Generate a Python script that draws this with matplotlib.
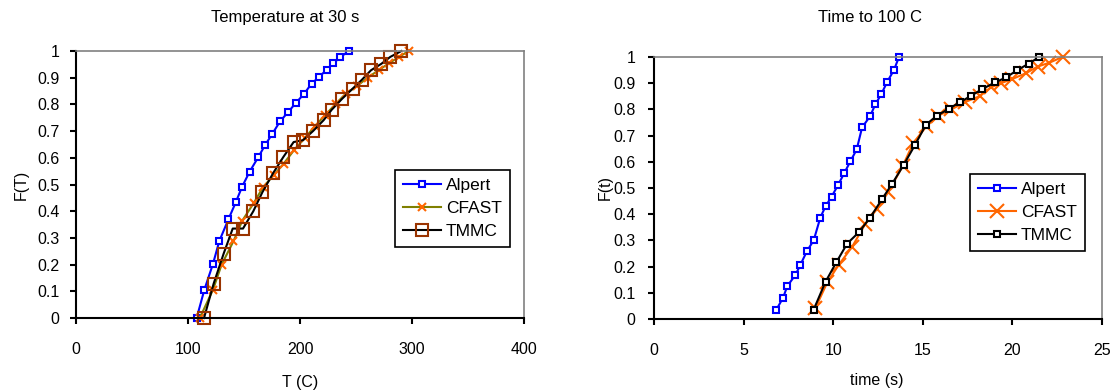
import matplotlib
matplotlib.use("Agg")
import matplotlib.pyplot as plt
import numpy as np

plt.rcParams['font.family'] = ['Liberation Sans', 'DejaVu Sans']
plt.rcParams['font.size'] = 11

# === Temperature at 30 s ===
temp_alpert_T = [107.7, 114.6, 122.3, 128.0, 136.0, 142.6, 148.2, 155.0, 162.8, 169.0, 175.3,
                 182.1, 189.3, 196.4, 203.3, 210.4, 217.3, 223.8, 229.8, 235.7, 243.5]
temp_alpert_F = [0.0, 0.106, 0.203, 0.289, 0.369, 0.433, 0.491, 0.548, 0.603, 0.649, 0.69,
                 0.736, 0.771, 0.806, 0.838, 0.878, 0.904, 0.93, 0.954, 0.976, 1.0]
temp_cfast_T = [110.5, 122.2, 130.0, 140.5, 148.5, 158.6, 167.0, 176.5, 185.4, 194.9, 204.5,
                213.2, 222.5, 232.1, 240.8, 250.6, 260.4, 270.8, 279.8, 288.4, 297.0]
temp_cfast_F = [0.0, 0.105, 0.2, 0.287, 0.365, 0.43, 0.49, 0.535, 0.578, 0.63, 0.675,
                0.718, 0.76, 0.803, 0.84, 0.868, 0.9, 0.93, 0.955, 0.978, 1.0]
temp_tmmc_T = [114.3, 122.9, 131.8, 139.9, 149.1, 158.3, 166.4, 176.2, 185.1, 194.3, 202.7,
               211.6, 221.1, 228.3, 237.8, 247.0, 255.4, 263.4, 272.6, 280.6, 290.5]
temp_tmmc_F = [0.0, 0.129, 0.241, 0.335, 0.335, 0.4, 0.471, 0.544, 0.603, 0.659, 0.666,
               0.7, 0.741, 0.78, 0.822, 0.859, 0.893, 0.928, 0.952, 0.978, 1.0]

# === Time to 100 C ===
time_alpert_t = [6.83, 7.2, 7.44, 7.89, 8.17, 8.54, 8.91, 9.28, 9.57, 9.91, 10.26,
                 10.61, 10.96, 11.31, 11.61, 12.06, 12.35, 12.69, 13.02, 13.39, 13.67]
time_alpert_F = [0.036, 0.081, 0.126, 0.168, 0.207, 0.26, 0.3, 0.387, 0.43, 0.467, 0.51,
                 0.556, 0.602, 0.647, 0.731, 0.774, 0.819, 0.859, 0.906, 0.95, 1.0]
time_cfast_t = [9.0, 9.67, 10.3, 11.05, 11.78, 12.44, 13.07, 13.87, 14.47, 15.2, 15.83,
                16.6, 17.33, 18.17, 18.8, 19.37, 20.0, 20.76, 21.4, 22.06, 22.8]
time_cfast_F = [0.041, 0.14, 0.206, 0.275, 0.362, 0.42, 0.484, 0.583, 0.672, 0.735, 0.775,
                0.8, 0.827, 0.85, 0.884, 0.9, 0.916, 0.938, 0.963, 0.978, 1.0]
time_tmmc_t = [8.91, 9.57, 10.17, 10.78, 11.43, 12.06, 12.72, 13.28, 13.93, 14.57, 15.17,
               15.77, 16.44, 17.07, 17.7, 18.3, 19.04, 19.65, 20.28, 20.9, 21.5]
time_tmmc_F = [0.036, 0.142, 0.216, 0.288, 0.331, 0.387, 0.457, 0.515, 0.588, 0.665, 0.741,
               0.775, 0.802, 0.827, 0.852, 0.877, 0.903, 0.922, 0.95, 0.974, 1.0]

labels = ['Alpert', 'CFAST', 'TMMC']
BLUE = '#0000FF'
ORANGE = '#FF6600'
OLIVE = '#808000'
BROWN = '#993300'


def style_axes(ax, xmax, xstep, ypad):
    ax.set_xlim(0, xmax)
    ax.set_ylim(0, 1)
    ax.set_xticks(np.arange(0, xmax + xstep / 2, xstep))
    ax.set_yticks(np.arange(0, 1.05, 0.1))
    ax.set_yticklabels(['0', '0.1', '0.2', '0.3', '0.4', '0.5', '0.6', '0.7', '0.8', '0.9', '1'])
    for s in ['top', 'right']:
        ax.spines[s].set_color('#808080')
        ax.spines[s].set_linewidth(1.2)
    for s in ['left', 'bottom']:
        ax.spines[s].set_color('black')
        ax.spines[s].set_linewidth(1.5)
    ax.tick_params(axis='x', direction='out', length=4, width=1.5, pad=13, labelsize=11.5)
    ax.tick_params(axis='y', direction='out', length=4, width=1.5, pad=ypad, labelsize=11.5)


def make_legend(ax, anchor):
    leg = ax.legend(loc='center', bbox_to_anchor=anchor, frameon=True, fancybox=False,
                    edgecolor='black', framealpha=1, handlelength=2.2, fontsize=12.5,
                    borderpad=0.45, labelspacing=0.45, handletextpad=0.3, borderaxespad=0)
    leg.get_frame().set_linewidth(1.2)
    return leg


fig = plt.figure(figsize=(11.18, 3.9), dpi=100)
ax1 = fig.add_axes([0.068, 0.1846, 0.4007, 0.6846])
ax2 = fig.add_axes([0.585, 0.182, 0.4007, 0.672])

# левый график
ax1.plot(temp_alpert_T, temp_alpert_F, color=BLUE, lw=1.5, marker='s', ms=5,
         mfc='white', mec=BLUE, mew=1.5, label=labels[0], clip_on=False)
ax1.plot(temp_cfast_T, temp_cfast_F, color=OLIVE, lw=1.5, marker='x', ms=6,
         mec=ORANGE, mew=1.5, label=labels[1], clip_on=False)
ax1.plot(temp_tmmc_T, temp_tmmc_F, color='black', lw=1.5, marker='s', ms=8.5,
         mfc='none', mec=BROWN, mew=1.5, label=labels[2], clip_on=False)
style_axes(ax1, 400, 100, 8)
ax1.set_xlabel('T (C)', fontsize=11.5)
ax1.set_ylabel('F(T)', fontsize=11.5)
ax1.xaxis.set_label_coords(0.5, -0.215)
ax1.yaxis.set_label_coords(-0.105, 0.5)
make_legend(ax1, (0.84, 0.41))

# правый график
ax2.plot(time_alpert_t, time_alpert_F, color=BLUE, lw=1.5, marker='s', ms=5,
         mfc='white', mec=BLUE, mew=1.5, label=labels[0], clip_on=False)
ax2.plot(time_cfast_t, time_cfast_F, color=ORANGE, lw=1.5, marker='x', ms=10,
         mec=ORANGE, mew=1.5, label=labels[1], clip_on=False)
ax2.plot(time_tmmc_t, time_tmmc_F, color='black', lw=1.5, marker='s', ms=5,
         mfc='white', mec='black', mew=1.5, label=labels[2], clip_on=False)
style_axes(ax2, 25, 5, 9.5)
ax2.set_xlabel('time (s)', fontsize=11.5)
ax2.set_ylabel('F(t)', fontsize=11.5)
ax2.xaxis.set_label_coords(0.498, -0.205)
ax2.yaxis.set_label_coords(-0.093, 0.5)
make_legend(ax2, (0.833, 0.406))

fig.text(0.255, 0.954, 'Temperature at 30 s', ha='center', va='center', fontsize=12)
fig.text(0.778, 0.954, 'Time to 100 C', ha='center', va='center', fontsize=12)

fig.savefig('out.png', dpi=100)
